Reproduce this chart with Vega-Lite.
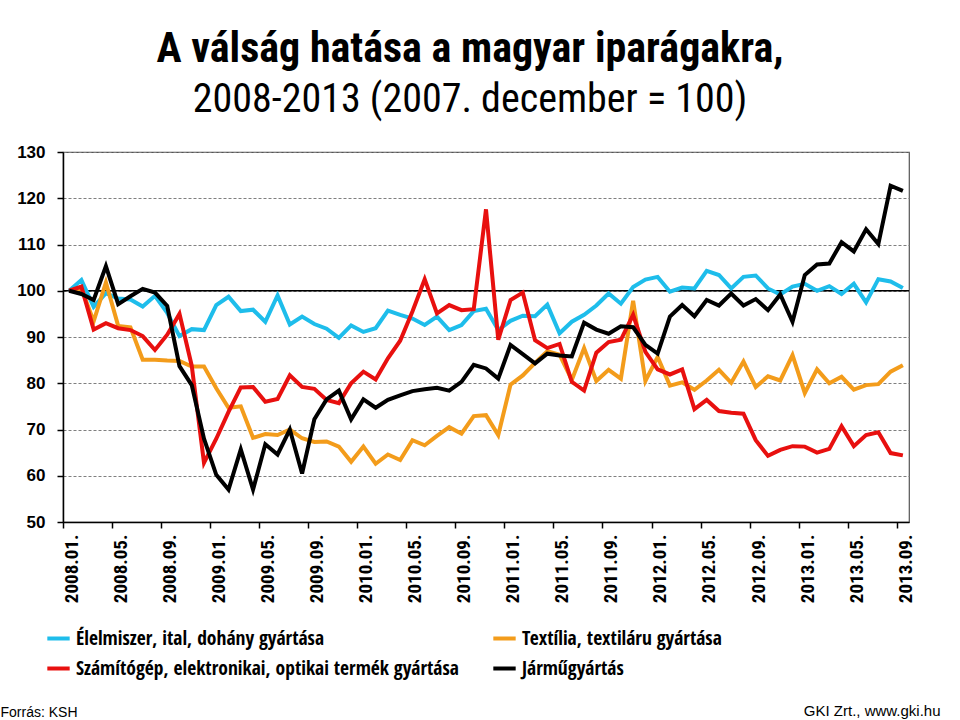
{
  "$schema": "https://vega.github.io/schema/vega-lite/v6.json",
  "width": 846,
  "height": 370,
  "autosize": {"type": "none"},
  "padding": {"left": 63, "top": 152, "right": 51, "bottom": 198},
  "background": "white",
  "title": {
    "text": "A válság hatása a magyar iparágakra,",
    "subtitle": "2008-2013 (2007. december = 100)",
    "anchor": "middle",
    "dx": -16,
    "offset": 22,
    "font": "Roboto Condensed, Liberation Sans, sans-serif",
    "fontSize": 42,
    "fontWeight": "bold",
    "color": "black",
    "subtitleFont": "Roboto Condensed, Liberation Sans, sans-serif",
    "subtitleFontSize": 40,
    "subtitleFontWeight": "normal",
    "subtitleColor": "black",
    "subtitlePadding": 9
  },
  "layer": [
    {
      "data": {"values": [{}]},
      "mark": {"type": "rule", "color": "black", "strokeWidth": 1.3},
      "encoding": {"y": {"datum": 100, "type": "quantitative"}}
    },
    {
      "data": {
        "values": [
          {"m": "2008.01.", "Élelmiszer, ital, dohány gyártása": 100, "Textília, textiláru gyártása": 100, "Számítógép, elektronikai, optikai termék gyártása": 100, "Járműgyártás": 100},
          {"m": "2008.02.", "Élelmiszer, ital, dohány gyártása": 102.3, "Textília, textiláru gyártása": 100.5, "Számítógép, elektronikai, optikai termék gyártása": 100.9, "Járműgyártás": 99.3},
          {"m": "2008.03.", "Élelmiszer, ital, dohány gyártása": 96.5, "Textília, textiláru gyártása": 93.4, "Számítógép, elektronikai, optikai termék gyártása": 91.6, "Járműgyártás": 98.0},
          {"m": "2008.04.", "Élelmiszer, ital, dohány gyártása": 99.5, "Textília, textiláru gyártása": 101.8, "Számítógép, elektronikai, optikai termék gyártása": 93.0, "Járműgyártás": 105.3},
          {"m": "2008.05.", "Élelmiszer, ital, dohány gyártása": 98.3, "Textília, textiláru gyártása": 92.4, "Számítógép, elektronikai, optikai termék gyártása": 91.9, "Járműgyártás": 97.1},
          {"m": "2008.06.", "Élelmiszer, ital, dohány gyártása": 98.1, "Textília, textiláru gyártása": 92.1, "Számítógép, elektronikai, optikai termék gyártása": 91.5, "Járműgyártás": 98.8},
          {"m": "2008.07.", "Élelmiszer, ital, dohány gyártása": 96.6, "Textília, textiláru gyártása": 85.1, "Számítógép, elektronikai, optikai termék gyártása": 90.2, "Járműgyártás": 100.4},
          {"m": "2008.08.", "Élelmiszer, ital, dohány gyártása": 98.9, "Textília, textiláru gyártása": 85.1, "Számítógép, elektronikai, optikai termék gyártása": 87.2, "Járműgyártás": 99.6},
          {"m": "2008.09.", "Élelmiszer, ital, dohány gyártása": 95.2, "Textília, textiláru gyártása": 84.9, "Számítógép, elektronikai, optikai termék gyártása": 90.5, "Járműgyártás": 96.7},
          {"m": "2008.10.", "Élelmiszer, ital, dohány gyártása": 90.2, "Textília, textiláru gyártása": 84.8, "Számítógép, elektronikai, optikai termék gyártása": 95.0, "Járműgyártás": 83.7},
          {"m": "2008.11.", "Élelmiszer, ital, dohány gyártása": 91.7, "Textília, textiláru gyártása": 83.6, "Számítógép, elektronikai, optikai termék gyártása": 83.8, "Járműgyártás": 79.6},
          {"m": "2008.12.", "Élelmiszer, ital, dohány gyártása": 91.5, "Textília, textiláru gyártása": 83.6, "Számítógép, elektronikai, optikai termék gyártása": 62.8, "Járműgyártás": 68.0},
          {"m": "2009.01.", "Élelmiszer, ital, dohány gyártása": 96.9, "Textília, textiláru gyártása": 78.9, "Számítógép, elektronikai, optikai termék gyártása": 68.0, "Járműgyártás": 60.2},
          {"m": "2009.02.", "Élelmiszer, ital, dohány gyártása": 98.7, "Textília, textiláru gyártása": 74.7, "Számítógép, elektronikai, optikai termék gyártása": 73.8, "Járműgyártás": 57.0},
          {"m": "2009.03.", "Élelmiszer, ital, dohány gyártása": 95.6, "Textília, textiláru gyártása": 75.0, "Számítógép, elektronikai, optikai termék gyártása": 79.1, "Járműgyártás": 65.7},
          {"m": "2009.04.", "Élelmiszer, ital, dohány gyártása": 95.9, "Textília, textiláru gyártása": 68.2, "Számítógép, elektronikai, optikai termék gyártása": 79.2, "Járműgyártás": 57.0},
          {"m": "2009.05.", "Élelmiszer, ital, dohány gyártása": 93.3, "Textília, textiláru gyártása": 69.0, "Számítógép, elektronikai, optikai termék gyártása": 76.0, "Járműgyártás": 66.8},
          {"m": "2009.06.", "Élelmiszer, ital, dohány gyártása": 99.0, "Textília, textiláru gyártása": 68.8, "Számítógép, elektronikai, optikai termék gyártása": 76.6, "Járműgyártás": 64.6},
          {"m": "2009.07.", "Élelmiszer, ital, dohány gyártása": 92.7, "Textília, textiláru gyártása": 70.0, "Számítógép, elektronikai, optikai termék gyártása": 81.7, "Járműgyártás": 70.0},
          {"m": "2009.08.", "Élelmiszer, ital, dohány gyártása": 94.4, "Textília, textiláru gyártása": 68.1, "Számítógép, elektronikai, optikai termék gyártása": 79.2, "Járműgyártás": 60.5},
          {"m": "2009.09.", "Élelmiszer, ital, dohány gyártása": 92.8, "Textília, textiláru gyártása": 67.3, "Számítógép, elektronikai, optikai termék gyártása": 78.8, "Járműgyártás": 72.2},
          {"m": "2009.10.", "Élelmiszer, ital, dohány gyártása": 91.8, "Textília, textiláru gyártása": 67.4, "Számítógép, elektronikai, optikai termék gyártása": 76.4, "Járműgyártás": 76.5},
          {"m": "2009.11.", "Élelmiszer, ital, dohány gyártása": 89.8, "Textília, textiláru gyártása": 66.3, "Számítógép, elektronikai, optikai termék gyártása": 75.7, "Járműgyártás": 78.4},
          {"m": "2009.12.", "Élelmiszer, ital, dohány gyártása": 92.5, "Textília, textiláru gyártása": 63.0, "Számítógép, elektronikai, optikai termék gyártása": 80.0, "Járműgyártás": 72.2},
          {"m": "2010.01.", "Élelmiszer, ital, dohány gyártása": 91.1, "Textília, textiláru gyártása": 66.3, "Számítógép, elektronikai, optikai termék gyártása": 82.5, "Járműgyártás": 76.5},
          {"m": "2010.02.", "Élelmiszer, ital, dohány gyártása": 91.9, "Textília, textiláru gyártása": 62.6, "Számítógép, elektronikai, optikai termék gyártása": 80.8, "Járműgyártás": 74.7},
          {"m": "2010.03.", "Élelmiszer, ital, dohány gyártása": 95.7, "Textília, textiláru gyártása": 64.6, "Számítógép, elektronikai, optikai termék gyártása": 85.4, "Járműgyártás": 76.4},
          {"m": "2010.04.", "Élelmiszer, ital, dohány gyártása": 94.8, "Textília, textiláru gyártása": 63.4, "Számítógép, elektronikai, optikai termék gyártása": 89.2, "Járműgyártás": 77.4},
          {"m": "2010.05.", "Élelmiszer, ital, dohány gyártása": 94.0, "Textília, textiláru gyártása": 67.7, "Számítógép, elektronikai, optikai termék gyártása": 95.5, "Járműgyártás": 78.3},
          {"m": "2010.06.", "Élelmiszer, ital, dohány gyártása": 92.6, "Textília, textiláru gyártása": 66.6, "Számítógép, elektronikai, optikai termék gyártása": 102.5, "Járműgyártás": 78.7},
          {"m": "2010.07.", "Élelmiszer, ital, dohány gyártása": 94.4, "Textília, textiláru gyártása": 68.6, "Számítógép, elektronikai, optikai termék gyártása": 95.1, "Járműgyártás": 79.0},
          {"m": "2010.08.", "Élelmiszer, ital, dohány gyártása": 91.5, "Textília, textiláru gyártása": 70.5, "Számítógép, elektronikai, optikai termék gyártása": 96.9, "Járműgyártás": 78.4},
          {"m": "2010.09.", "Élelmiszer, ital, dohány gyártása": 92.6, "Textília, textiláru gyártása": 69.1, "Számítógép, elektronikai, optikai termék gyártása": 95.8, "Járműgyártás": 80.3},
          {"m": "2010.10.", "Élelmiszer, ital, dohány gyártása": 95.6, "Textília, textiláru gyártása": 72.9, "Számítógép, elektronikai, optikai termék gyártása": 96.0, "Járműgyártás": 84.0},
          {"m": "2010.11.", "Élelmiszer, ital, dohány gyártása": 96.1, "Textília, textiláru gyártása": 73.1, "Számítógép, elektronikai, optikai termék gyártása": 117.6, "Járműgyártás": 83.2},
          {"m": "2010.12.", "Élelmiszer, ital, dohány gyártása": 91.5, "Textília, textiláru gyártása": 68.8, "Számítógép, elektronikai, optikai termék gyártása": 89.4, "Járműgyártás": 81.0},
          {"m": "2011.01.", "Élelmiszer, ital, dohány gyártása": 93.5, "Textília, textiláru gyártása": 79.7, "Számítógép, elektronikai, optikai termék gyártása": 98.0, "Járműgyártás": 88.3},
          {"m": "2011.02.", "Élelmiszer, ital, dohány gyártása": 94.6, "Textília, textiláru gyártása": 81.7, "Számítógép, elektronikai, optikai termék gyártása": 99.6, "Járműgyártás": 86.3},
          {"m": "2011.03.", "Élelmiszer, ital, dohány gyártása": 94.5, "Textília, textiláru gyártása": 84.4, "Számítógép, elektronikai, optikai termék gyártása": 89.3, "Járműgyártás": 84.3},
          {"m": "2011.04.", "Élelmiszer, ital, dohány gyártása": 97.0, "Textília, textiláru gyártása": 86.9, "Számítógép, elektronikai, optikai termék gyártása": 87.6, "Járműgyártás": 86.4},
          {"m": "2011.05.", "Élelmiszer, ital, dohány gyártása": 90.8, "Textília, textiláru gyártása": 86.2, "Számítógép, elektronikai, optikai termék gyártása": 88.5, "Járműgyártás": 86.0},
          {"m": "2011.06.", "Élelmiszer, ital, dohány gyártása": 93.3, "Textília, textiláru gyártása": 80.7, "Számítógép, elektronikai, optikai termék gyártása": 80.3, "Járműgyártás": 85.8},
          {"m": "2011.07.", "Élelmiszer, ital, dohány gyártása": 94.8, "Textília, textiláru gyártása": 87.6, "Számítógép, elektronikai, optikai termék gyártása": 78.4, "Járműgyártás": 93.1},
          {"m": "2011.08.", "Élelmiszer, ital, dohány gyártása": 96.8, "Textília, textiláru gyártása": 80.5, "Számítógép, elektronikai, optikai termék gyártása": 86.6, "Járműgyártás": 91.6},
          {"m": "2011.09.", "Élelmiszer, ital, dohány gyártása": 99.4, "Textília, textiláru gyártása": 82.9, "Számítógép, elektronikai, optikai termék gyártása": 88.9, "Járműgyártás": 90.7},
          {"m": "2011.10.", "Élelmiszer, ital, dohány gyártása": 97.2, "Textília, textiláru gyártása": 81.0, "Számítógép, elektronikai, optikai termék gyártása": 89.4, "Járműgyártás": 92.3},
          {"m": "2011.11.", "Élelmiszer, ital, dohány gyártása": 100.8, "Textília, textiláru gyártása": 97.8, "Számítógép, elektronikai, optikai termék gyártása": 94.8, "Járműgyártás": 92.1},
          {"m": "2011.12.", "Élelmiszer, ital, dohány gyártása": 102.4, "Textília, textiláru gyártása": 80.5, "Számítógép, elektronikai, optikai termék gyártása": 86.8, "Járműgyártás": 88.3},
          {"m": "2012.01.", "Élelmiszer, ital, dohány gyártása": 103.0, "Textília, textiláru gyártása": 85.7, "Számítógép, elektronikai, optikai termék gyártása": 83.0, "Járműgyártás": 86.4},
          {"m": "2012.02.", "Élelmiszer, ital, dohány gyártása": 99.8, "Textília, textiláru gyártása": 79.5, "Számítógép, elektronikai, optikai termék gyártása": 81.9, "Járműgyártás": 94.4},
          {"m": "2012.03.", "Élelmiszer, ital, dohány gyártása": 100.7, "Textília, textiláru gyártása": 80.2, "Számítógép, elektronikai, optikai termék gyártása": 83.0, "Járműgyártás": 96.9},
          {"m": "2012.04.", "Élelmiszer, ital, dohány gyártása": 100.5, "Textília, textiláru gyártása": 78.6, "Számítógép, elektronikai, optikai termék gyártása": 74.4, "Járműgyártás": 94.5},
          {"m": "2012.05.", "Élelmiszer, ital, dohány gyártása": 104.3, "Textília, textiláru gyártása": 80.6, "Számítógép, elektronikai, optikai termék gyártása": 76.4, "Járműgyártás": 98.0},
          {"m": "2012.06.", "Élelmiszer, ital, dohány gyártása": 103.4, "Textília, textiláru gyártása": 82.9, "Számítógép, elektronikai, optikai termék gyártása": 74.0, "Járműgyártás": 96.8},
          {"m": "2012.07.", "Élelmiszer, ital, dohány gyártása": 100.5, "Textília, textiláru gyártása": 80.1, "Számítógép, elektronikai, optikai termék gyártása": 73.6, "Járműgyártás": 99.4},
          {"m": "2012.08.", "Élelmiszer, ital, dohány gyártása": 103.0, "Textília, textiláru gyártása": 84.7, "Számítógép, elektronikai, optikai termék gyártása": 73.4, "Járműgyártás": 96.8},
          {"m": "2012.09.", "Élelmiszer, ital, dohány gyártása": 103.3, "Textília, textiláru gyártása": 79.2, "Számítógép, elektronikai, optikai termék gyártása": 67.7, "Járműgyártás": 98.2},
          {"m": "2012.10.", "Élelmiszer, ital, dohány gyártása": 100.5, "Textília, textiláru gyártása": 81.5, "Számítógép, elektronikai, optikai termék gyártása": 64.3, "Járműgyártás": 95.8},
          {"m": "2012.11.", "Élelmiszer, ital, dohány gyártása": 99.2, "Textília, textiláru gyártása": 80.6, "Számítógép, elektronikai, optikai termék gyártása": 65.6, "Járműgyártás": 99.2},
          {"m": "2012.12.", "Élelmiszer, ital, dohány gyártása": 100.9, "Textília, textiláru gyártása": 86.1, "Számítógép, elektronikai, optikai termék gyártása": 66.4, "Járműgyártás": 93.3},
          {"m": "2013.01.", "Élelmiszer, ital, dohány gyártása": 101.5, "Textília, textiláru gyártása": 77.9, "Számítógép, elektronikai, optikai termék gyártása": 66.3, "Járműgyártás": 103.4},
          {"m": "2013.02.", "Élelmiszer, ital, dohány gyártása": 100.0, "Textília, textiláru gyártása": 83.0, "Számítógép, elektronikai, optikai termék gyártása": 65.0, "Járműgyártás": 105.7},
          {"m": "2013.03.", "Élelmiszer, ital, dohány gyártása": 101.0, "Textília, textiláru gyártása": 80.0, "Számítógép, elektronikai, optikai termék gyártása": 65.8, "Járműgyártás": 105.9},
          {"m": "2013.04.", "Élelmiszer, ital, dohány gyártása": 99.3, "Textília, textiláru gyártása": 81.4, "Számítógép, elektronikai, optikai termék gyártása": 70.7, "Járműgyártás": 110.5},
          {"m": "2013.05.", "Élelmiszer, ital, dohány gyártása": 101.5, "Textília, textiláru gyártása": 78.6, "Számítógép, elektronikai, optikai termék gyártása": 66.4, "Járműgyártás": 108.5},
          {"m": "2013.06.", "Élelmiszer, ital, dohány gyártása": 97.5, "Textília, textiláru gyártása": 79.6, "Számítógép, elektronikai, optikai termék gyártása": 68.8, "Járműgyártás": 113.3},
          {"m": "2013.07.", "Élelmiszer, ital, dohány gyártása": 102.5, "Textília, textiláru gyártása": 79.8, "Számítógép, elektronikai, optikai termék gyártása": 69.4, "Járműgyártás": 110.1},
          {"m": "2013.08.", "Élelmiszer, ital, dohány gyártása": 102.0, "Textília, textiláru gyártása": 82.5, "Számítógép, elektronikai, optikai termék gyártása": 64.9, "Járműgyártás": 122.7},
          {"m": "2013.09.", "Élelmiszer, ital, dohány gyártása": 100.6, "Textília, textiláru gyártása": 83.9, "Számítógép, elektronikai, optikai termék gyártása": 64.4, "Járműgyártás": 121.6}
        ]
      },
      "transform": [
        {"fold": ["Élelmiszer, ital, dohány gyártása", "Textília, textiláru gyártása", "Számítógép, elektronikai, optikai termék gyártása", "Járműgyártás"], "as": ["series", "value"]}
      ],
      "mark": {"type": "line", "strokeWidth": 4},
      "encoding": {
        "x": {
          "field": "m",
          "type": "ordinal",
          "sort": null,
          "scale": {"type": "point", "padding": 0.5},
          "axis": {
            "values": ["2008.01.", "2008.05.", "2008.09.", "2009.01.", "2009.05.", "2009.09.", "2010.01.", "2010.05.", "2010.09.", "2011.01.", "2011.05.", "2011.09.", "2012.01.", "2012.05.", "2012.09.", "2013.01.", "2013.05.", "2013.09."],
            "labelAngle": -90,
            "tickOffset": -6.13,
            "labelOffset": 8.4,
            "labelFont": "Noto Sans Condensed, Roboto Condensed, Liberation Sans, sans-serif",
            "labelFontSize": 19,
            "labelFontWeight": "bold",
            "labelColor": "black",
            "labelPadding": 6,
            "tickSize": 6,
            "tickColor": "black",
            "tickWidth": 1.5,
            "domainColor": "black",
            "domainWidth": 1.5,
            "grid": false,
            "title": "Forrás: KSH",
            "titleX": -63,
            "titleY": 190,
            "titleAlign": "left",
            "titleBaseline": "middle",
            "titleFont": "Liberation Sans, sans-serif",
            "titleFontSize": 14,
            "titleFontWeight": "normal",
            "titleColor": "black"
          }
        },
        "y": {
          "field": "value",
          "type": "quantitative",
          "scale": {"domain": [50, 130], "nice": false, "zero": false},
          "axis": {
            "values": [50, 60, 70, 80, 90, 100, 110, 120, 130],
            "labelFont": "Liberation Sans, sans-serif",
            "labelFontSize": 17,
            "labelFontWeight": "bold",
            "labelColor": "black",
            "labelPadding": 12,
            "tickSize": 6,
            "tickColor": "black",
            "tickWidth": 1.5,
            "domainColor": "black",
            "domainWidth": 1.5,
            "grid": true,
            "gridColor": "#7f7f7f",
            "gridDash": [3, 2],
            "gridWidth": 1,
            "title": "GKI Zrt., www.gki.hu",
            "titleAngle": 0,
            "titleX": 877,
            "titleY": 558,
            "titleAlign": "right",
            "titleBaseline": "middle",
            "titleFont": "Liberation Sans, sans-serif",
            "titleFontSize": 15,
            "titleFontWeight": "normal",
            "titleColor": "black"
          }
        },
        "color": {
          "field": "series",
          "type": "nominal",
          "scale": {
            "domain": ["Élelmiszer, ital, dohány gyártása", "Számítógép, elektronikai, optikai termék gyártása", "Textília, textiláru gyártása", "Járműgyártás"],
            "range": ["#1EBDEB", "#E8100F", "#F39C1B", "#000000"]
          },
          "legend": {
            "orient": "none",
            "legendX": -18,
            "legendY": 473,
            "columns": 2,
            "title": null,
            "padding": 0,
            "symbolType": "stroke",
            "symbolStrokeWidth": 4,
            "symbolSize": 500,
            "labelFont": "Open Sans Condensed, Roboto Condensed, Liberation Sans, sans-serif",
            "labelFontSize": 19.5,
            "labelFontWeight": "bold",
            "labelColor": "black",
            "labelLimit": 1000,
            "labelOffset": 4,
            "columnPadding": 26,
            "rowPadding": 7
          }
        }
      }
    }
  ],
  "config": {
    "view": {"stroke": "#555555", "strokeWidth": 1.2}
  }
}
